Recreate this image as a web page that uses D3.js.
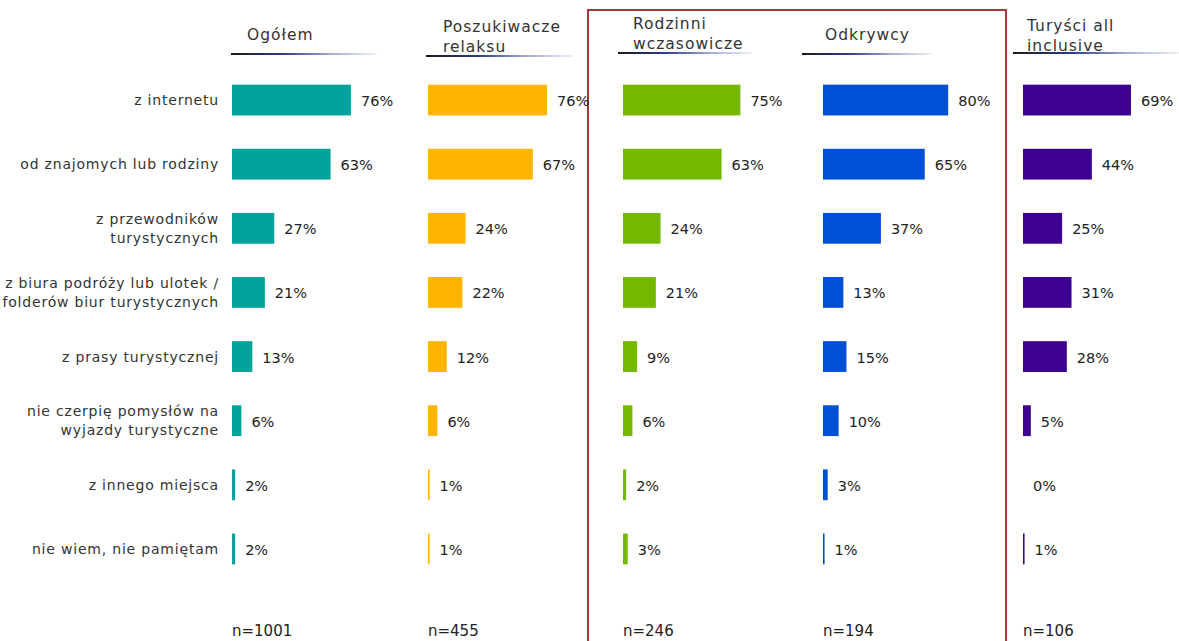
<!DOCTYPE html>
<html>
<head>
<meta charset="utf-8">
<script src="https://cdn.jsdelivr.net/npm/d3@7"></script>
<style>
  html, body { margin: 0; padding: 0; background: #fff; }
  svg { display: block; font-family: "DejaVu Sans", sans-serif; }
</style>
</head>
<body>
<svg id="chart" width="1179" height="641"></svg>
<script>
// Sources of travel ideas, by tourist segment (% of respondents)
const categories = [
  "z internetu",
  "od znajomych lub rodziny",
  "z przewodników\nturystycznych",
  "z biura podróży lub ulotek /\nfolderów biur turystycznych",
  "z prasy turystycznej",
  "nie czerpię pomysłów na\nwyjazdy turystyczne",
  "z innego miejsca",
  "nie wiem, nie pamiętam"
];

const groups = ["Ogółem", "Poszukiwacze relaksu", "Rodzinni wczasowicze", "Odkrywcy", "Turyści all inclusive"];
const groupTitles = [["Ogółem"], ["Poszukiwacze", "relaksu"], ["Rodzinni", "wczasowicze"], ["Odkrywcy"], ["Turyści all", "inclusive"]];
const sampleSizes = ["n=1001", "n=455", "n=246", "n=194", "n=106"];

const ogolem       = [76, 63, 27, 21, 13, 6, 2, 2];
const poszukiwacze = [76, 67, 24, 22, 12, 6, 1, 1];
const rodzinni     = [75, 63, 24, 21, 9, 6, 2, 3];
const odkrywcy     = [80, 65, 37, 13, 15, 10, 3, 1];
const turysci      = [69, 44, 25, 31, 28, 5, 0, 1];
const seriesValues = [ogolem, poszukiwacze, rodzinni, odkrywcy, turysci];

const colors = ["#00a29c", "#ffb400", "#74b800", "#0050d6", "#3d0090"];

// layout
const svg = d3.select("#chart");
const colStart = d3.scaleOrdinal().domain(groups).range([232, 428, 623, 823, 1023]);
const color = d3.scaleOrdinal().domain(groups).range(colors);
const x = d3.scaleLinear().domain([0, 100]).range([0, 156.5]);
const y = d3.scaleBand().domain(categories).range([68, 581]).paddingInner(0.52).paddingOuter(0.26);

// header geometry per column: title offset, underline extent, title baselines
const headerLayout = [
  { tx: 15, u0: -1, u1: 145, base: [40], uy: 54 },
  { tx: 15, u0: -2, u1: 145, base: [32, 52], uy: 56 },
  { tx: 10, u0: -5, u1: 129, base: [29, 49], uy: 53 },
  { tx: 2, u0: -21, u1: 109, base: [40], uy: 54 },
  { tx: 4, u0: -10, u1: 156, base: [31, 51], uy: 53 }
];

const defs = svg.append("defs");
const grad = defs.append("linearGradient").attr("id", "uline").attr("x1", "0%").attr("x2", "100%").attr("y1", "0%").attr("y2", "0%");
grad.append("stop").attr("offset", "0%").attr("stop-color", "#1a1a1a");
grad.append("stop").attr("offset", "35%").attr("stop-color", "#2c3a8a");
grad.append("stop").attr("offset", "70%").attr("stop-color", "#a5b0d6");
grad.append("stop").attr("offset", "100%").attr("stop-color", "#eef0f8");

// highlight frame around the two middle segments
svg.append("path")
  .attr("d", "M588,642 L588,10 L1006,10 L1006,642")
  .attr("fill", "none")
  .attr("stroke", "#a33a3a")
  .attr("stroke-width", 2);

// category labels
const catLabels = svg.append("g").attr("class", "categories");
categories.forEach(c => {
  const lines = c.split("\n");
  const cy = y(c) + y.bandwidth() / 2;
  const t = catLabels.append("text")
    .attr("x", 219)
    .attr("text-anchor", "end")
    .attr("fill", "#333")
    .attr("font-size", 14)
    .attr("letter-spacing", 0.8);
  lines.forEach((ln, i) => {
    t.append("tspan")
      .attr("x", 219)
      .attr("y", cy + 5 + (i - (lines.length - 1) / 2) * 19)
      .text(ln);
  });
});

// columns
groups.forEach((g, gi) => {
  const x0 = colStart(g);
  const col = svg.append("g").attr("class", "col").attr("transform", `translate(${x0},0)`);
  const hl = headerLayout[gi];

  col.append("rect")
    .attr("x", hl.u0)
    .attr("y", hl.uy - 1)
    .attr("width", hl.u1 - hl.u0)
    .attr("height", 2)
    .attr("fill", "url(#uline)");

  groupTitles[gi].forEach((ln, i) => {
    col.append("text")
      .attr("x", hl.tx)
      .attr("y", hl.base[i])
      .attr("fill", "#333")
      .attr("font-size", 15.5)
      .attr("letter-spacing", 1)
      .text(ln);
  });

  const rows = categories.map((c, i) => ({ c, v: seriesValues[gi][i] }));

  col.selectAll("rect.bar")
    .data(rows.filter(d => d.v > 0))
    .join("rect")
    .attr("class", "bar")
    .attr("x", 0)
    .attr("y", d => y(d.c))
    .attr("width", d => x(d.v))
    .attr("height", y.bandwidth())
    .attr("fill", color(g));

  col.selectAll("text.val")
    .data(rows)
    .join("text")
    .attr("class", "val")
    .attr("x", d => x(d.v) + 10)
    .attr("y", d => y(d.c) + y.bandwidth() / 2 + 6)
    .attr("fill", "#222")
    .attr("font-size", 14.5)
    .text(d => d.v + "%");

  col.append("text")
    .attr("x", 0)
    .attr("y", 636)
    .attr("fill", "#222")
    .attr("font-size", 15)
    .text(sampleSizes[gi]);
});
</script>
</body>
</html>
